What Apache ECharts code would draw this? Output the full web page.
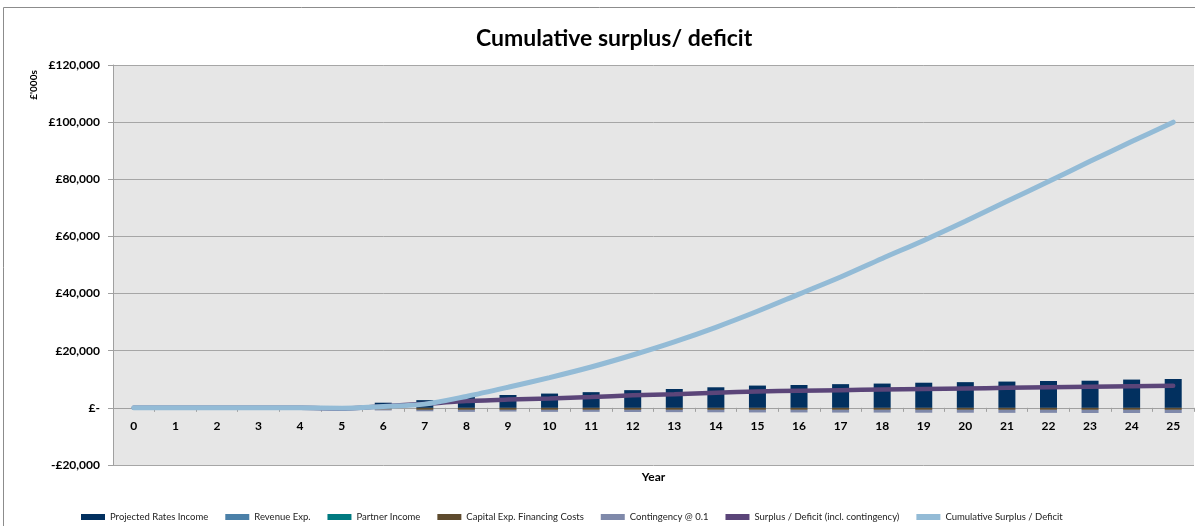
<!DOCTYPE html>
<html>
<head>
<meta charset="utf-8">
<script src="https://cdn.jsdelivr.net/npm/echarts@6/dist/echarts.min.js"></script>
<style>
html,body{margin:0;padding:0;background:#fff;}
#chart{width:1195px;height:526px;}
</style>
</head>
<body>
<div id="chart"></div>
<script>
// ---- Data (values in £'000s) ----
const years = ['0','1','2','3','4','5','6','7','8','9','10','11','12','13','14','15','16','17','18','19','20','21','22','23','24','25'];
const projectedRatesIncome = [0,0,0,0,0,0,1800,2700,3800,4500,5000,5500,6200,6600,7200,7800,8000,8300,8500,8800,9000,9200,9400,9500,9900,10100];
const revenueExp = [0,0,0,0,0,0,0,0,0,0,0,0,0,0,0,0,0,0,0,0,0,0,0,0,0,0];
const partnerIncome = [0,0,0,0,0,0,0,0,0,0,0,0,0,0,0,0,0,0,0,0,0,0,0,0,0,0];
const capitalExpFinancing = [0,0,0,0,0,-200,-600,-700,-700,-700,-700,-700,-700,-700,-700,-700,-700,-700,-700,-700,-700,-700,-700,-700,-700,-700];
const contingency = [0,0,0,0,0,-100,-300,-500,-700,-600,-700,-700,-750,-800,-850,-900,-900,-950,-950,-1000,-1000,-1050,-1050,-1100,-1100,-1100];
const surplusDeficit = [0,0,0,0,0,-300,600,1400,2400,2900,3300,3800,4400,4800,5300,5700,6000,6200,6400,6600,6800,7000,7200,7400,7600,7700];
const cumulativeSurplus = [0,0,0,0,0,-100,500,1300,4000,7200,10600,14300,18500,23100,28200,33800,39800,45800,52300,58600,65300,72300,79200,86300,93200,100000];
const yTicks = {min: -20000, max: 120000, interval: 20000};

const seriesNames = ['Projected Rates Income','Revenue Exp.','Partner Income','Capital Exp. Financing Costs','Contingency @ 0.1','Surplus / Deficit (incl. contingency)','Cumulative Surplus / Deficit'];
const colors = ['#02305f','#4b80a8','#007a80','#5e4b2e','#7f89aa','#5b4579','#93bbd6'];

function fmtMoney(v){
  if (v === 0) return '£-';
  const s = Math.abs(v).toLocaleString('en-GB');
  return (v < 0 ? '-£' : '£') + s;
}

const chart = echarts.init(document.getElementById('chart'), null, {renderer:'canvas'});
const barSeries = (name, data, color) => ({
  name, type:'bar', stack:'total', data, barWidth:17,
  itemStyle:{color}, emphasis:{disabled:true}
});
const labelFont = {fontFamily:'Lato', fontWeight:'bold', fontSize:12, color:'#000'};
const option = {
  animation:false,
  color: colors,
  title:{
    text:'Cumulative surplus/ deficit', left:471, top:22,
    textStyle:{fontFamily:'Lato', fontWeight:'bold', fontSize:23, color:'#000'}
  },
  graphic:[
    {type:'rect', shape:{x:3.5,y:7.5,width:1200,height:530}, style:{fill:'none', stroke:'#8c8c8c', lineWidth:1}, z:-1, silent:true},
    {type:'text', x:34, y:85, rotation:Math.PI/2,
     style:{text:"£'000s", font:'bold 10px Lato', fill:'#000', textAlign:'center', textVerticalAlign:'middle'}}
  ],
  grid:{left:113, right:1, top:65, bottom:61, show:true, backgroundColor:'#e6e6e6', borderWidth:0,
        containLabel:false, outerBoundsMode:'none'},
  legend:{
    left:76, top:507, itemGap:17, itemWidth:24, itemHeight:6, icon:'rect',
    textStyle:{fontFamily:'Lato', fontSize:9.5, color:'#222'},
    data: seriesNames
  },
  xAxis:[
    {
      type:'category', data:years, position:'bottom',
      axisLine:{onZero:true, lineStyle:{color:'#a0a0a0', width:1}},
      axisTick:{show:true, length:4, lineStyle:{color:'#a0a0a0'}},
      axisLabel:{show:false},
      splitLine:{show:false}
    },
    {
      type:'category', data:years, position:'bottom', gridIndex:0,
      name:'Year', nameLocation:'middle', nameGap:6,
      nameTextStyle:labelFont,
      axisLine:{show:false, onZero:false},
      axisTick:{show:false},
      axisLabel:Object.assign({margin:-45}, labelFont),
      splitLine:{show:false}
    }
  ],
  yAxis:{
    type:'value', min:yTicks.min, max:yTicks.max, interval:yTicks.interval,
    axisLine:{show:true, lineStyle:{color:'#a0a0a0'}},
    axisTick:{show:true, length:5, lineStyle:{color:'#a0a0a0'}},
    axisLabel:Object.assign({margin:13, formatter:fmtMoney}, labelFont),
    splitLine:{show:true, lineStyle:{color:'#a6a6a6', width:1}}
  },
  series:[
    barSeries(seriesNames[0], projectedRatesIncome, colors[0]),
    barSeries(seriesNames[1], revenueExp, colors[1]),
    barSeries(seriesNames[2], partnerIncome, colors[2]),
    barSeries(seriesNames[3], capitalExpFinancing, colors[3]),
    barSeries(seriesNames[4], contingency, colors[4]),
    {name:seriesNames[5], type:'line', data:surplusDeficit, smooth:0.2, showSymbol:false, symbol:'none',
     lineStyle:{color:colors[5], width:4.5, cap:'round'}, itemStyle:{color:colors[5]}, z:3},
    {name:seriesNames[6], type:'line', data:cumulativeSurplus, smooth:0.3, showSymbol:false, symbol:'none',
     lineStyle:{color:colors[6], width:5, cap:'round'}, itemStyle:{color:colors[6]}, z:4}
  ]
};
chart.setOption(option);
</script>
</body>
</html>
